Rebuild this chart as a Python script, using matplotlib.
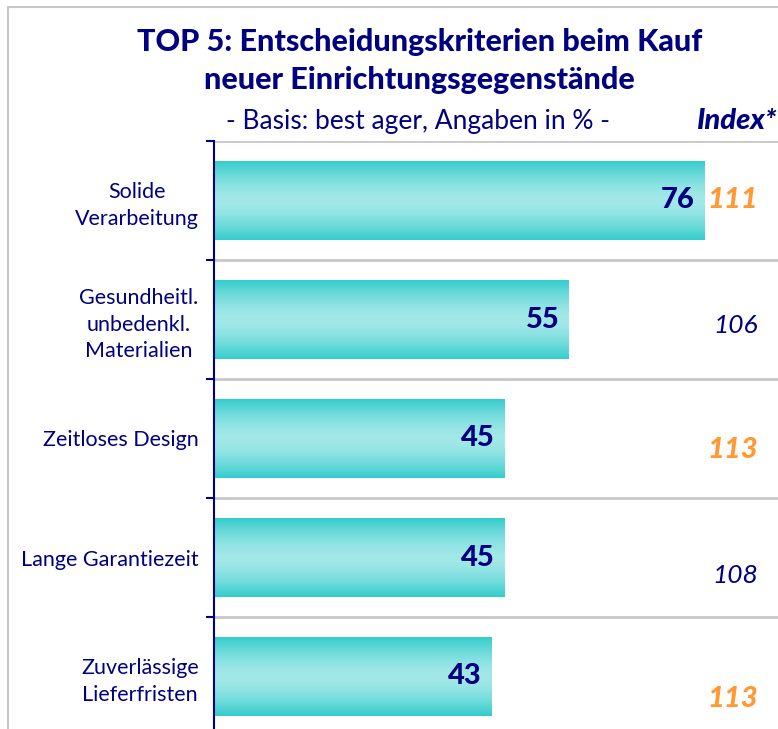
import numpy as np
import matplotlib
matplotlib.use("Agg")
from matplotlib import pyplot as plt
from matplotlib.patches import Rectangle

categories = ["Solide\nVerarbeitung", "Gesundheitl.\nunbedenkl.\nMaterialien",
              "Zeitloses Design", "Lange Garantiezeit", "Zuverlässige\nLieferfristen"]
values = [76, 55, 45, 45, 43]
index_values = [111, 106, 113, 108, 113]
index_highlight = [True, False, True, False, True]

NAVY = "#000080"
ORANGE = "#FF9933"
EDGE = np.array([0x33, 0xCC, 0xCC]) / 255
MID = np.array([0xA3, 0xE8, 0xE8]) / 255

plt.rcParams["font.family"] = ["Lato", "DejaVu Sans"]

fig = plt.figure(figsize=(7.78, 7.29), dpi=100)
# light frame around the chart area
fig.patches.append(Rectangle((8 / 778, -0.1), 1.2, (729 - 7) / 729 + 0.1,
                             transform=fig.transFigure, fill=False,
                             edgecolor="#C8C8C8", linewidth=1.5))

ax = fig.add_axes([214 / 778, -7 / 729, 564 / 778, 595 / 729])
pos = np.arange(len(categories))
bar_h = 0.66
bars = ax.barh(pos, values, height=bar_h, color="none", edgecolor="none")

# vertical gradient fill per bar
t = np.linspace(-1, 1, 200)
w = np.clip(np.abs(t) ** 1.6, 0, 1)[:, None]
grad = (MID * (1 - w) + EDGE * w)[:, None, :]
for b in bars:
    x0, y0 = b.get_x(), b.get_y()
    ax.imshow(grad, extent=(x0, x0 + b.get_width(), y0 + b.get_height(), y0),
              aspect="auto", interpolation="bicubic", zorder=2)

ax.set_xlim(0, 87.4)
ax.set_ylim(len(categories) - 0.5, -0.5)

# band separators
for yb in np.arange(-0.5, len(categories), 1.0):
    ax.axhline(yb, color="#C8C8C8", linewidth=2, zorder=1)

for s in ["top", "right", "bottom"]:
    ax.spines[s].set_visible(False)
ax.spines["left"].set_color(NAVY)
ax.spines["left"].set_linewidth(1.5)
ax.spines["left"].set_zorder(5)
ax.set_xticks([])
ax.set_yticks(pos)
ax.set_yticklabels(categories, color=NAVY, fontsize=15.5, multialignment="center",
                   linespacing=1.4)
ax.tick_params(axis="y", which="major", length=0, pad=11)
ax.set_yticks(np.arange(-0.5, len(categories), 1.0), minor=True)
ax.tick_params(axis="y", which="minor", length=6, width=1.5, color=NAVY, direction="out")

for p, v in zip(pos, values):
    ax.text(v - 1.5, p + 0.0, str(v), ha="right", va="center", color=NAVY,
            fontsize=21, fontweight="black", zorder=4)

index_dy = [0.0, 0.05, 0.1, 0.15, 0.19]
for p, iv, hl, dy in zip(pos, index_values, index_highlight, index_dy):
    ax.text(84.3, p + dy, str(iv), ha="right", va="center",
            color=ORANGE if hl else NAVY, fontsize=21 if hl else 19,
            fontweight="black" if hl else "normal", fontstyle="italic", zorder=4)

fig.text(0.539, 1 - 42 / 729, "TOP 5: Entscheidungskriterien beim Kauf",
         ha="center", va="center", color=NAVY, fontsize=22, fontweight="black")
fig.text(0.539, 1 - 80 / 729, "neuer Einrichtungsgegenstände",
         ha="center", va="center", color=NAVY, fontsize=22, fontweight="black")
fig.text(418 / 778, 1 - 121 / 729, "- Basis: best ager, Angaben in % -",
         ha="center", va="center", color=NAVY, fontsize=19)
fig.text(776 / 778, 1 - 121 / 729, "Index*", ha="right", va="center",
         color=NAVY, fontsize=21, fontweight="black", fontstyle="italic")

fig.savefig("out.png", dpi=100)
